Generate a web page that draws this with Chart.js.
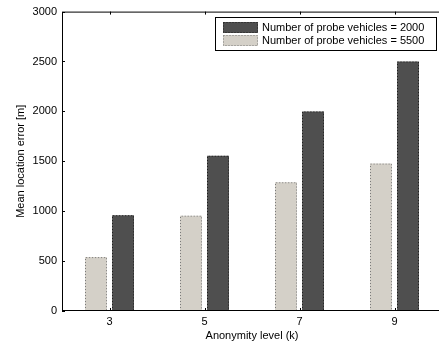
<!DOCTYPE html>
<html>
<head>
<meta charset="utf-8">
<script src="https://cdn.jsdelivr.net/npm/chart.js@4/dist/chart.umd.min.js"></script>
<style>
  html, body { margin: 0; padding: 0; overflow: hidden; background: #fff; }
</style>
</head>
<body>
<canvas id="chart" width="439" height="343"></canvas>
<script>
// chart data
const categories = ['3', '5', '7', '9'];
const vehicles5500 = [540, 955, 1290, 1477];
const vehicles2000 = [960, 1555, 2000, 2500];
const seriesLabels = ['Number of probe vehicles = 5500', 'Number of probe vehicles = 2000'];

const FONT = "'Liberation Sans', Arial, Helvetica, sans-serif";
const darkFill = '#4f4f4f';
const lightFill = '#d4d0c8';
const darkDots = '#1e1e1e';
const lightDots = '#7a7a7a';
const TICK = 3;
const PLOT_RIGHT = 442; // the original plot box runs past the right edge of the image

// stretch the x scale a bit past the canvas edge
const widenX = {
  id: 'widenX',
  afterLayout(chart) {
    const xs = chart.scales.x;
    chart.chartArea.right = PLOT_RIGHT;
    chart.chartArea.width = PLOT_RIGHT - chart.chartArea.left;
    xs.right = PLOT_RIGHT;
    xs.width = PLOT_RIGHT - xs.left;
    xs.configure();
  }
};

// dotted edges, box, inward ticks and legend (matlab look)
const matlabLook = {
  id: 'matlabLook',
  afterDatasetsDraw(chart) {
    const ctx = chart.ctx;
    ctx.save();
    ctx.lineWidth = 1;
    ctx.setLineDash([1, 2]);
    chart.data.datasets.forEach((ds, i) => {
      chart.getDatasetMeta(i).data.forEach(bar => {
        const p = bar.getProps(['x', 'y', 'base', 'width'], true);
        const l = Math.round(p.x - p.width / 2) + 0.5;
        const r = Math.round(p.x + p.width / 2) - 0.5;
        ctx.strokeStyle = ds.dotColor;
        ctx.beginPath();
        ctx.moveTo(l, p.base);
        ctx.lineTo(l, p.y + 0.5);
        ctx.lineTo(r, p.y + 0.5);
        ctx.lineTo(r, p.base);
        ctx.stroke();
      });
    });
    ctx.restore();
  },
  afterDraw(chart) {
    const ctx = chart.ctx;
    const a = chart.chartArea;
    const xs = chart.scales.x;
    const ys = chart.scales.y;
    ctx.save();
    ctx.strokeStyle = '#000';
    ctx.lineWidth = 1;
    ctx.strokeRect(a.left + 0.5, a.top + 0.5, a.right - a.left - 1, a.bottom - a.top - 1);
    ctx.beginPath();
    xs.ticks.forEach((t, i) => {
      const x = Math.round(xs.getPixelForTick(i)) + 0.5;
      ctx.moveTo(x, a.bottom); ctx.lineTo(x, a.bottom - TICK);
      ctx.moveTo(x, a.top); ctx.lineTo(x, a.top + TICK);
    });
    ys.ticks.forEach((t, i) => {
      const y = Math.round(ys.getPixelForTick(i)) + 0.5;
      ctx.moveTo(a.left, y); ctx.lineTo(a.left + TICK, y);
      ctx.moveTo(a.right, y); ctx.lineTo(a.right - TICK, y);
    });
    ctx.stroke();

    // legend box, top right inside plot
    const bx = 215.5, by = 17.5, bw = 221, bh = 33;
    ctx.fillStyle = '#fff';
    ctx.fillRect(bx, by, bw, bh);
    ctx.strokeRect(bx, by, bw, bh);
    const order = [1, 0];
    ctx.font = '11px ' + FONT;
    ctx.textBaseline = 'middle';
    order.forEach((di, row) => {
      const ds = chart.data.datasets[di];
      const sy = 22 + row * 13;
      ctx.fillStyle = ds.backgroundColor;
      ctx.fillRect(223, sy, 35, 11);
      ctx.setLineDash([1, 2]);
      ctx.strokeStyle = ds.dotColor;
      ctx.strokeRect(223.5, sy + 0.5, 34, 10);
      ctx.setLineDash([]);
      ctx.fillStyle = '#000';
      ctx.fillText(ds.label, 262, sy + 6);
    });
    ctx.restore();
  }
};

new Chart(document.getElementById('chart'), {
  type: 'bar',
  data: {
    labels: categories,
    datasets: [
      { label: seriesLabels[0], data: vehicles5500, backgroundColor: lightFill, dotColor: lightDots, borderWidth: 0 },
      { label: seriesLabels[1], data: vehicles2000, backgroundColor: darkFill, dotColor: darkDots, borderWidth: 0 }
    ]
  },
  options: {
    responsive: false,
    animation: false,
    devicePixelRatio: 1,
    layout: { padding: { top: 11, right: 0, left: 0, bottom: 0 } },
    datasets: { bar: { categoryPercentage: 0.57, barPercentage: 0.81 } },
    plugins: { legend: { display: false }, tooltip: { enabled: false } },
    scales: {
      x: {
        offset: true,
        grid: { display: false, drawTicks: false },
        border: { display: false },
        ticks: { color: '#000', font: { family: FONT, size: 11 }, padding: 4, maxRotation: 0 },
        title: { display: true, text: 'Anonymity level (k)', color: '#000', font: { family: FONT, size: 11 }, padding: { top: 0, bottom: 0 } },
        afterFit: s => { s.height = 32; }
      },
      y: {
        min: 0,
        max: 3000,
        ticks: { stepSize: 500, color: '#000', font: { family: FONT, size: 11 }, padding: 5, callback: v => String(v) },
        grid: { display: false, drawTicks: false },
        border: { display: false },
        title: { display: true, text: 'Mean location error [m]', color: '#000', font: { family: FONT, size: 11 }, padding: { top: 14, bottom: 0 } },
        afterFit: s => { s.width = 62; }
      }
    }
  },
  plugins: [widenX, matlabLook]
});
</script>
</body>
</html>
